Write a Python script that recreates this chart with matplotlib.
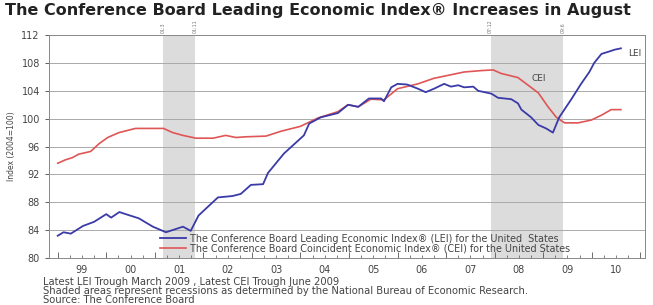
import matplotlib
matplotlib.use('Agg')
import matplotlib.pyplot as plt
from matplotlib.ticker import MultipleLocator, FixedLocator, NullFormatter

# LEI (2004=100)
lei_t = [1999.0, 1999.12, 1999.27, 1999.52, 1999.75, 2000.0, 2000.1, 2000.27, 2000.4, 2000.67,
         2000.96, 2001.23, 2001.58, 2001.74, 2001.9, 2002.1, 2002.3, 2002.6, 2002.77, 2002.98,
         2003.23, 2003.33, 2003.66, 2004.07, 2004.18, 2004.42, 2004.77, 2004.98, 2005.19, 2005.41,
         2005.66, 2005.72, 2005.87, 2006.0, 2006.2, 2006.42, 2006.58, 2006.75, 2006.96, 2007.1,
         2007.25, 2007.37, 2007.56, 2007.66, 2007.93, 2008.07, 2008.34, 2008.48, 2008.55, 2008.75,
         2008.9, 2009.06, 2009.2, 2009.33, 2009.58, 2009.78, 2009.95, 2010.05, 2010.2, 2010.34,
         2010.47, 2010.6]
lei_v = [83.2, 83.7, 83.5, 84.6, 85.2, 86.3, 85.8, 86.6, 86.3, 85.7,
         84.5, 83.7, 84.5, 83.9, 86.1, 87.4, 88.7, 88.9, 89.2, 90.5,
         90.6, 92.2, 95.0, 97.6, 99.3, 100.2, 100.8, 102.0, 101.7, 102.9,
         102.9, 102.5, 104.5, 105.0, 104.9, 104.3, 103.8, 104.3, 105.0, 104.6,
         104.8, 104.5, 104.6, 104.0, 103.6, 103.0, 102.8, 102.2, 101.3, 100.2,
         99.1, 98.6, 98.0, 100.2, 102.8, 105.0, 106.7, 108.0, 109.3, 109.6,
         109.9, 110.1]

# CEI (2004=100)
cei_t = [1999.0, 1999.16, 1999.3, 1999.43, 1999.68, 1999.85, 2000.03, 2000.26, 2000.6, 2001.0,
         2001.18, 2001.37, 2001.58, 2001.85, 2002.2, 2002.46, 2002.67, 2002.88, 2003.29, 2003.6,
         2004.0, 2004.36, 2004.77, 2004.98, 2005.19, 2005.45, 2005.72, 2006.0, 2006.42, 2006.75,
         2006.96, 2007.37, 2007.72, 2007.97, 2008.13, 2008.48, 2008.69, 2008.9, 2009.1, 2009.27,
         2009.44, 2009.72, 2009.99, 2010.2, 2010.4, 2010.6]
cei_v = [93.6, 94.1, 94.4, 94.9, 95.3, 96.4, 97.3, 98.0, 98.6, 98.6,
         98.6, 98.0, 97.6, 97.2, 97.2, 97.6, 97.3, 97.4, 97.5, 98.2,
         98.9, 100.1, 101.0, 102.0, 101.7, 102.8, 102.7, 104.3, 105.0, 105.8,
         106.1, 106.7, 106.9, 107.0, 106.5, 105.9, 104.8, 103.7, 101.7, 100.2,
         99.4, 99.4, 99.8, 100.5, 101.3, 101.3]

# recessions (start, end) and their labels
rec_start = [2001 + 2 / 12, 2007 + 11 / 12]
rec_end = [2001 + 10 / 12, 2009 + 5 / 12]
rec_lab = [('01:3', '01:11'), ('07:12', '09:6')]

years = list(range(1999, 2011))
year_lab = ['99', '00', '01', '02', '03', '04', '05', '06', '07', '08', '09', '10']
y_ticks = [80, 84, 88, 92, 96, 100, 104, 108, 112]

blue = '#3a3aa8'
red = '#e05555'
txt = '#444444'

fig = plt.figure(figsize=(6.53, 3.05), dpi=100)
ax = fig.add_axes([0.075, 0.154, 0.913, 0.731])

for s, e, (l1, l2) in zip(rec_start, rec_end, rec_lab):
    ax.axvspan(s, e, color='#dcdcdc', zorder=0, lw=0)
    ax.text(s, 112.3, l1, rotation=90, fontsize=3.4, color='#777777', ha='center', va='bottom')
    ax.text(e, 112.3, l2, rotation=90, fontsize=3.4, color='#777777', ha='center', va='bottom')

for y in y_ticks[1:-1]:
    ax.axhline(y, color='#aaaaaa', lw=0.7, zorder=1)

ax.plot(lei_t, lei_v, color=blue, lw=1.3, zorder=3,
        label='The Conference Board Leading Economic Index\u00ae (LEI) for the United  States')
ax.plot(cei_t, cei_v, color=red, lw=1.2, zorder=2,
        label='The Conference Board Coincident Economic Index\u00ae (CEI) for the United States')

ax.text(2008.75, 105.4, 'CEI', fontsize=6.5, color=txt)
ax.text(2010.75, 109.0, 'LEI', fontsize=6.5, color=txt)

ax.set_xlim(1998.82, 2011.1)
ax.set_ylim(80, 112)
ax.set_yticks(y_ticks)
ax.tick_params(axis='y', labelsize=7, colors=txt, length=3, width=0.6)

ax.xaxis.set_major_locator(FixedLocator(years + [2011]))
ax.xaxis.set_major_formatter(NullFormatter())
ax.xaxis.set_minor_locator(MultipleLocator(0.25))
ax.tick_params(axis='x', which='major', direction='in', length=4, width=0.6, color='#555555')
ax.tick_params(axis='x', which='minor', direction='in', length=2, width=0.5, color='#555555')
for yr, lab in zip(years, year_lab):
    ax.text(yr + 0.5, 79.0, lab, fontsize=7, color=txt, ha='center', va='top')

for sp in ax.spines.values():
    sp.set_color('#888888')
    sp.set_linewidth(0.7)

ax.set_ylabel('Index (2004=100)', fontsize=5.5, color=txt, labelpad=4)

leg = ax.legend(loc='lower left', bbox_to_anchor=(0.175, -0.01), frameon=False,
                fontsize=6.9, handlelength=2.7, borderpad=0.2, labelspacing=0.0,
                handletextpad=0.4)
for t in leg.get_texts():
    t.set_color(txt)

fig.text(0.008, 0.965, 'The Conference Board Leading Economic Index\u00ae Increases in August',
         fontsize=11.5, fontweight='bold', color='#222222', va='center')

fig.text(0.066, 0.075, 'Latest LEI Trough March 2009 , Latest CEI Trough June 2009',
         fontsize=7.2, color=txt, va='center')
fig.text(0.066, 0.045, 'Shaded areas represent recessions as determined by the National Bureau of Economic Research.',
         fontsize=7.2, color=txt, va='center')
fig.text(0.066, 0.015, 'Source: The Conference Board', fontsize=7.2, color=txt, va='center')

fig.savefig('out.png', dpi=100)
